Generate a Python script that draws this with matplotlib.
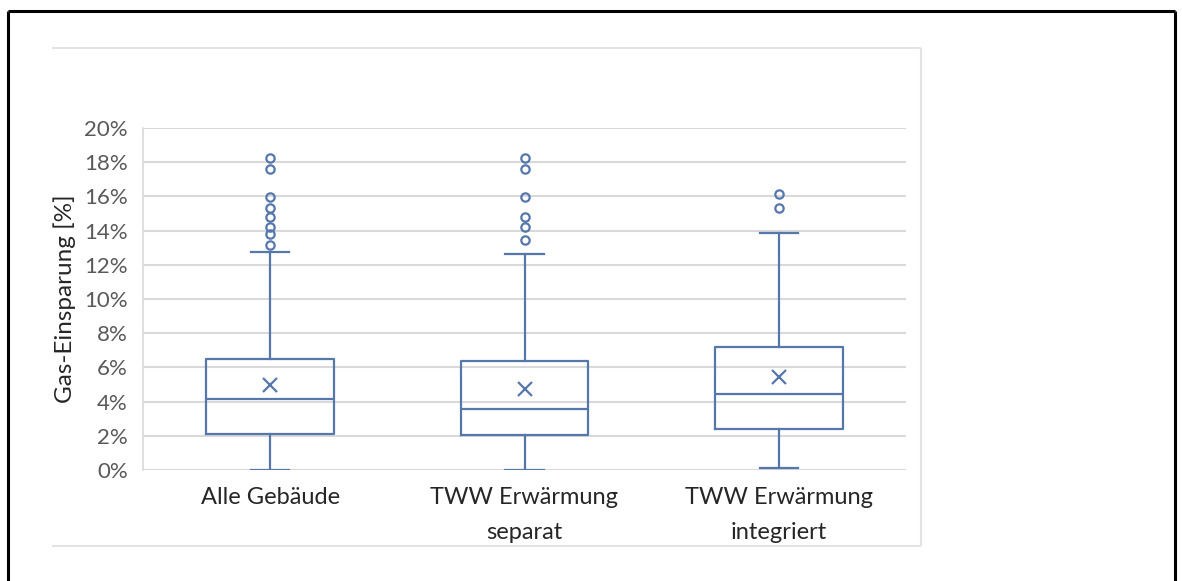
import matplotlib
matplotlib.use("Agg")
import matplotlib.pyplot as plt
from matplotlib.lines import Line2D
from matplotlib.ticker import FuncFormatter, MultipleLocator

# ---- data (percent) ----
categories = ["Alle Gebäude", "TWW Erwärmung\nseparat", "TWW Erwärmung\nintegriert"]
whisker_low = [0.0, 0.0, 0.13]
q1 = [2.12, 2.07, 2.42]
median = [4.17, 3.57, 4.46]
q3 = [6.47, 6.39, 7.21]
whisker_high = [12.77, 12.63, 13.84]
mean = [4.97, 4.74, 5.42]
outliers_alle = [18.23, 17.6, 15.98, 15.34, 14.78, 14.23, 13.8, 13.14]
outliers_separat = [18.23, 17.6, 15.95, 14.78, 14.23, 13.45]
outliers_integriert = [16.12, 15.34]
outliers = [outliers_alle, outliers_separat, outliers_integriert]
y_label = "Gas-Einsparung [%]"

plt.rcParams['font.family'] = ['Lato', 'DejaVu Sans']

blue = '#5577AC'
grid_c = '#D9D9D9'

fig = plt.figure(figsize=(11.82, 5.81), dpi=100)
ax = fig.add_axes([143/1182, 1-470/581, (906-143)/1182, (470-128)/581])

stats = []
for i in range(len(categories)):
    stats.append(dict(label=categories[i], whislo=whisker_low[i], q1=q1[i], med=median[i],
                      q3=q3[i], whishi=whisker_high[i], mean=mean[i], fliers=outliers[i]))

ax.bxp(stats, positions=[1, 2, 3], widths=0.503, showmeans=True, capwidths=0.15,
       boxprops=dict(color=blue, linewidth=1.6),
       medianprops=dict(color=blue, linewidth=1.6),
       whiskerprops=dict(color=blue, linewidth=1.6),
       capprops=dict(color=blue, linewidth=1.6),
       meanprops=dict(marker='x', markeredgecolor=blue, markersize=10, markeredgewidth=1.6),
       flierprops=dict(marker='o', markerfacecolor='none', markeredgecolor=blue,
                       markersize=6, markeredgewidth=1.6))

ax.set_xlim(0.5, 3.5)
ax.set_ylim(0, 20)
ax.yaxis.set_major_locator(MultipleLocator(2))
ax.yaxis.set_major_formatter(FuncFormatter(lambda v, p: f"{v:.0f}%"))
ax.set_axisbelow(True)
ax.grid(axis='y', color=grid_c, linewidth=1.5)
for s in ['top', 'right', 'bottom']:
    ax.spines[s].set_visible(False)
ax.spines['left'].set_color(grid_c)
ax.spines['left'].set_linewidth(1.2)
ax.tick_params(axis='y', length=0, pad=11, labelsize=16, labelcolor='#595959')
ax.tick_params(axis='x', length=0, pad=12, labelsize=17, labelcolor='#262626')
for t in ax.get_xticklabels():
    t.set_linespacing(1.85)
    t.set_verticalalignment('top')
ax.set_ylabel(y_label, fontsize=17.5, color='#262626', labelpad=6)

# inner chart frame (light grey)
def fl(x0, y0, x1, y1, color, lw):
    fig.add_artist(Line2D([x0/1182, x1/1182], [1-y0/581, 1-y1/581], color=color,
                          linewidth=lw, transform=fig.transFigure, solid_capstyle='butt'))

fl(52, 48, 921, 48, '#E3E3E3', 1.5)
fl(921, 48, 921, 546, '#E3E3E3', 1.5)
fl(52, 546, 921, 546, '#E3E3E3', 1.5)
# outer black frame
fl(8, 11, 1175, 11, 'black', 2.2)
fl(8, 11, 8, 581, 'black', 2.2)
fl(1175, 11, 1175, 581, 'black', 2.2)

fig.savefig('out.png', dpi=100)
